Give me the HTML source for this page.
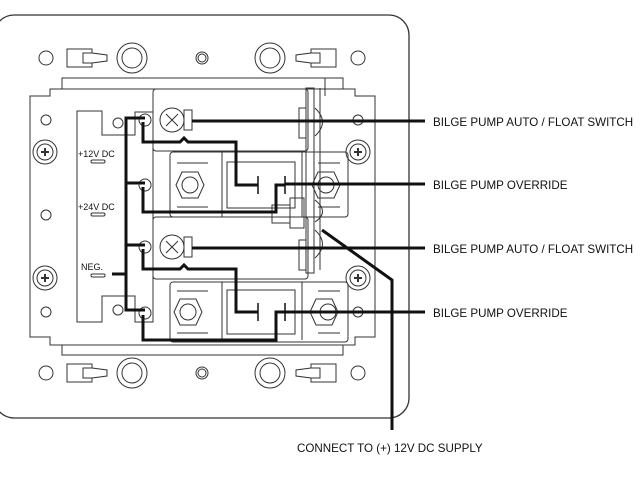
<!DOCTYPE html>
<html><head><style>
html,body{margin:0;padding:0;background:#fff;}
svg{display:block;}
text{font-family:"Liberation Sans",sans-serif;fill:#111;}
</style></head><body>
<svg width="640" height="480" viewBox="0 0 640 480" xmlns="http://www.w3.org/2000/svg">
<g fill="none" stroke="#333" stroke-width="1">
<rect x="-6" y="15" width="415" height="403" rx="20" stroke-width="1.3"/>
<g>
<circle cx="46" cy="58" r="7"/>
<path d="M67 49 H92 V53 H83 V63 H92 V67 H67 Z M92 53 L107 55 V61 L92 63"/>
<circle cx="132" cy="58" r="15"/><circle cx="132" cy="58" r="10"/>
<circle cx="202" cy="58" r="6"/><circle cx="202" cy="58" r="4"/>
<circle cx="270" cy="58" r="15"/><circle cx="270" cy="58" r="10"/>
<path d="M336 49 H311 V53 H320 V63 H311 V67 H336 Z M311 53 L296 55 V61 L311 63"/>
<circle cx="358" cy="58" r="7"/>
</g>
<g transform="translate(0,315)">
<circle cx="46" cy="58" r="7"/>
<path d="M67 49 H92 V53 H83 V63 H92 V67 H67 Z M92 53 L107 55 V61 L92 63"/>
<circle cx="132" cy="58" r="15"/><circle cx="132" cy="58" r="10"/>
<circle cx="202" cy="58" r="6"/><circle cx="202" cy="58" r="4"/>
<circle cx="270" cy="58" r="15"/><circle cx="270" cy="58" r="10"/>
<path d="M336 49 H311 V53 H320 V63 H311 V67 H336 Z M311 53 L296 55 V61 L311 63"/>
<circle cx="358" cy="58" r="7"/>
</g>
<path d="M62 89 V78 H343 V89"/>
<path d="M30 337 V96 H50 V89 H355 V96 H375 V337 H355 V345 H343 V355 H62 V345 H50 V337 Z"/>
<path d="M62 345 H343"/>
<circle cx="46" cy="120" r="5"/><circle cx="46" cy="215" r="5"/><circle cx="46" cy="312" r="5"/>
<circle cx="358" cy="120" r="5"/><circle cx="358" cy="312" r="5"/>
<circle cx="45" cy="152" r="12"/><circle cx="45" cy="152" r="8"/>
<circle cx="45" cy="278" r="12"/><circle cx="45" cy="278" r="8"/>
<circle cx="358" cy="152" r="12"/><circle cx="358" cy="152" r="8"/>
<circle cx="358" cy="278" r="12"/><circle cx="358" cy="278" r="8"/>
<path d="M41 152 h8 M45 148 v8 M41 278 h8 M45 274 v8 M354 152 h8 M358 148 v8 M354 278 h8 M358 274 v8" stroke-width="2"/>
<path d="M77 322 V111 H102 V135 H135 V112 H153 V322 H135 V296 H102 V322 Z"/>
<circle cx="118" cy="123" r="5"/><circle cx="118" cy="310" r="5"/>
<rect x="91" y="160" width="14" height="3" rx="1.5"/>
<rect x="91" y="213" width="14" height="3" rx="1.5"/>
<rect x="91" y="274" width="14" height="3" rx="1.5"/>
<circle cx="145" cy="120" r="6"/><circle cx="145" cy="185" r="6"/>
<circle cx="145" cy="247" r="6"/><circle cx="145" cy="313" r="6"/>
<rect x="153" y="89" width="155" height="62" rx="3"/>
<rect x="170" y="152" width="178" height="65" rx="3"/>
<path d="M222 152 V217 M302 152 V217"/>
<rect x="227" y="162" width="68" height="46"/>
<path d="M177 163 H208 M177 207 H208 M318 163 H340 M318 207 H340"/>
<polygon points="176,185 182,172 198,172 204,185 198,198 182,198"/>
<circle cx="190" cy="185" r="8"/>
<polygon points="312,185 318,172 334,172 340,185 334,198 318,198"/>
<circle cx="326" cy="185" r="8"/>
<rect x="153" y="217" width="155" height="62" rx="3"/>
<rect x="170" y="282" width="178" height="60" rx="3"/>
<path d="M222 282 V340 M302 282 V340"/>
<rect x="227" y="290" width="68" height="44"/>
<path d="M177 291 H208 M177 333 H208 M318 291 H340 M318 333 H340"/>
<polygon points="174,312 180,299 196,299 202,312 196,325 180,325"/>
<circle cx="188" cy="312" r="8"/>
<polygon points="310,312 316,299 332,299 338,312 332,325 316,325"/>
<circle cx="328" cy="312" r="8"/>
<circle cx="172" cy="120" r="12"/><rect x="184" y="110" width="8" height="20"/>
<circle cx="172" cy="247" r="12"/><rect x="184" y="237" width="8" height="20"/>
<path d="M166 114 L178 126 M178 114 L166 126 M166 241 L178 253 M178 241 L166 253"/>
<rect x="306" y="88" width="8" height="185"/>
<rect x="299" y="108" width="7" height="30"/><rect x="299" y="240" width="7" height="30"/>
<path d="M315 108 Q330 122 315 136 M315 230 Q330 244 315 258 M315 200 Q330 212 315 222"/>
<rect x="290" y="198" width="14" height="30"/><rect x="272" y="205" width="18" height="18"/>
<path d="M320 88 V270 M325 78 V96"/>
</g>
<g fill="none" stroke="#111" stroke-width="3">
<path d="M145 118 H126 V310 H145"/>
<path d="M126 183 H145 M126 245 H145"/>
<path d="M112 274 H126"/>
<path d="M143 122 V142 H180 L184 138 L188 142 H236 V185 H258"/>
<path d="M143 187 V212 H276 V185 H285"/>
<path d="M143 249 V269 H180 L184 265 L188 269 H236 V312 H258"/>
<path d="M143 315 V340 H276 V312 H285"/>
<path d="M192 121 H425 M285 184 H425 M192 248 H425 M285 312 H425"/>
<path d="M322 230 L392 280 V430"/>
</g>
<g stroke="#111" stroke-width="1.5">
<path d="M258 176 V194 M285 176 V194 M258 303 V321 M285 303 V321"/>
</g>
<g font-size="9">
<text x="78" y="157">+12V DC</text>
<text x="78" y="210">+24V DC</text>
<text x="81" y="270">NEG.</text>
</g>
<g font-size="11.6">
<text x="433" y="126">BILGE PUMP AUTO / FLOAT SWITCH</text>
<text x="433" y="189">BILGE PUMP OVERRIDE</text>
<text x="433" y="253">BILGE PUMP AUTO / FLOAT SWITCH</text>
<text x="433" y="317">BILGE PUMP OVERRIDE</text>
<text x="297" y="452">CONNECT TO (+) 12V DC SUPPLY</text>
</g>
</svg>
</body></html>
